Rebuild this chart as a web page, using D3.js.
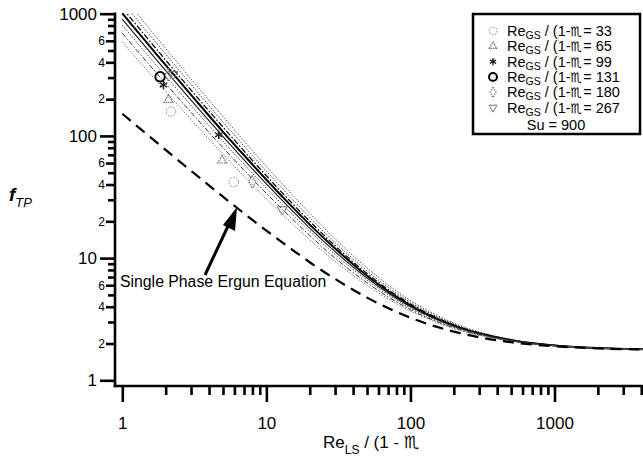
<!DOCTYPE html>
<html>
<head>
<meta charset="utf-8">
<script src="https://cdn.jsdelivr.net/npm/d3@7"></script>
<style>
  body { margin: 0; background: #fff; }
  svg { display: block; font-family: "Liberation Sans", Arial, sans-serif; }
  .eps { font-family: "DejaVu Sans", sans-serif; font-variant-emoji: text; }
</style>
</head>
<body>
<script>
'use strict';

// Re_LS / (1 - eps) sample points
const reX = [1, 1.2, 1.5, 2, 3, 5, 7, 10, 15, 20, 30, 50, 100, 200, 500, 1000, 4300];

// single phase Ergun (dashed)
const ergun = [151.8, 126.8, 101.8, 76.8, 51.8, 31.8, 23.2, 16.8, 11.8, 9.25, 6.75, 4.75, 3.25, 2.5, 2.05, 1.9, 1.785];

// model curves, top to bottom
const curveA = [1406, 1081, 784, 520, 293, 144, 90.9, 56.4, 33.3, 23.3, 14.4, 8.30, 4.50, 2.94, 2.16, 1.94, 1.79];
const curveB = [1252, 964, 701, 466, 264, 130, 82.6, 51.5, 30.7, 21.5, 13.4, 7.86, 4.35, 2.89, 2.15, 1.94, 1.79];
const curveC = [1115, 859, 626, 417, 237, 118, 75.2, 47.2, 28.3, 20.0, 12.6, 7.47, 4.21, 2.84, 2.14, 1.93, 1.79];
const curveD = [1008, 778, 568, 379, 217, 108, 69.4, 43.8, 26.5, 18.8, 12.0, 7.17, 4.11, 2.80, 2.13, 1.93, 1.79];
const curveE = [902, 697, 510, 342, 196, 98.8, 63.7, 40.5, 24.7, 17.6, 11.3, 6.87, 4.00, 2.77, 2.12, 1.92, 1.79];
const curveF = [806, 624, 458, 308, 178, 90.2, 58.5, 37.4, 23.0, 16.6, 10.7, 6.60, 3.90, 2.73, 2.11, 1.92, 1.79];
const curveG = [693, 538, 396, 268, 156, 80.1, 52.4, 33.9, 21.1, 15.3, 10.0, 6.28, 3.79, 2.69, 2.10, 1.92, 1.79];
const curveH = [588, 458, 339, 231, 136, 70.8, 46.7, 30.5, 19.3, 14.1, 9.40, 5.98, 3.69, 2.65, 2.09, 1.91, 1.79];

// measured points [Re_LS/(1-eps), f_TP]
const pts33 = [[2.18, 158], [5.94, 42]];
const pts65 = [[2.09, 197], [4.93, 63]];
const pts99 = [[1.93, 261], [4.67, 102]];
const pts131 = [[1.83, 305]];
const pts180 = [[2.09, 315], [7.98, 42]];
const pts267 = [[2.25, 320], [12.9, 25]];

const legendRe = [33, 65, 99, 131, 180, 267];
const legendSu = 900;

const xMajor = [1, 10, 100, 1000];
const xMinor = [2, 3, 4, 5, 6, 7, 8, 9, 20, 30, 40, 50, 60, 70, 80, 90,
  200, 300, 400, 500, 600, 700, 800, 900, 2000, 3000, 4000];
const yMajor = [1, 10, 100, 1000];
const yMinorLabeled = [2, 4, 6, 20, 40, 60, 200, 400, 600];
const yMinor = [3, 5, 7, 8, 9, 30, 50, 70, 80, 90, 300, 500, 700, 800, 900];

// the symbol-font epsilon shows up as a Scorpio sign in the original
const EPS = '\u264F\uFE0E';

let svg = d3.select('body').append('svg')
  .attr('width', 643)
  .attr('height', 461);

let xScale = d3.scaleLog().domain([1, 1000]).range([122.3, 554.5]);
let yScale = d3.scaleLog().domain([1, 1000]).range([380.3, 13.7]);

// clip the curves to the plot box
svg.append('clipPath').attr('id', 'plotClip')
  .append('rect').attr('x', 115).attr('y', 13).attr('width', 528).attr('height', 373);

let plot = svg.append('g').attr('clip-path', 'url(#plotClip)');

let line = d3.line()
  .x(d => xScale(d[0]))
  .y(d => yScale(d[1]))
  .curve(d3.curveMonotoneX);

function pairs(vals) {
  return reX.map((x, i) => [x, vals[i]]);
}

// draw curves: [data, stroke, width, dash]
let curves = [
  [curveA, '#555', 1, '1.5,1.5'],
  [curveB, '#444', 1, '1.5,1.5'],
  [curveC, '#111', 1.3, '6,2,1.5,2'],
  [curveD, '#000', 2, null],
  [curveE, '#222', 1.2, null],
  [curveF, '#444', 1, '1.5,1.5'],
  [curveG, '#333', 1, '5,2,1.5,2'],
  [curveH, '#777', 1, '1.5,1.5']
];
curves.forEach(c => {
  plot.append('path')
    .attr('d', line(pairs(c[0])))
    .attr('fill', 'none')
    .attr('stroke', c[1])
    .attr('stroke-width', c[2])
    .attr('stroke-dasharray', c[3]);
});

// Ergun dashed line
plot.append('path')
  .attr('d', line(pairs(ergun)))
  .attr('fill', 'none')
  .attr('stroke', '#000')
  .attr('stroke-width', 2.2)
  .attr('stroke-dasharray', '11,7');

// marker styles for each series
let markers = [
  { pts: pts33, type: d3.symbolCircle, size: 70, stroke: '#777', width: 1, dash: '1.5,1.5' },
  { pts: pts65, type: d3.symbolTriangle, size: 35, stroke: '#666', width: 1.2, dash: '1.5,1' },
  { pts: pts99, type: d3.symbolAsterisk, size: 50, stroke: '#222', width: 1.4, dash: null },
  { pts: pts131, type: d3.symbolCircle, size: 70, stroke: '#000', width: 2, dash: null },
  { pts: pts180, type: d3.symbolDiamond, size: 45, stroke: '#777', width: 1.2, dash: '1.5,1' },
  { pts: pts267, type: d3.symbolTriangle, size: 40, stroke: '#777', width: 1, dash: null, flip: true }
];

markers.forEach(m => {
  plot.selectAll(null)
    .data(m.pts)
    .enter()
    .append('path')
    .attr('d', d3.symbol().type(m.type).size(m.size))
    .attr('transform', d => 'translate(' + xScale(d[0]) + ',' + yScale(d[1]) + ')' + (m.flip ? 'rotate(180)' : ''))
    .attr('fill', 'none')
    .attr('stroke', m.stroke)
    .attr('stroke-width', m.width)
    .attr('stroke-dasharray', m.dash);
});

// axes
function styleAxis(g) {
  g.select('.domain').remove();
  g.selectAll('.tick line').attr('stroke', '#000').attr('stroke-width', 2.6);
  g.selectAll('.tick text').attr('fill', '#000');
}

let yAxisG = svg.append('g').attr('transform', 'translate(115,0)');
yAxisG.append('g')
  .call(d3.axisLeft(yScale).tickValues(yMinor).tickSize(7).tickFormat(''))
  .call(styleAxis);
yAxisG.append('g')
  .call(d3.axisLeft(yScale).tickValues(yMinorLabeled).tickSize(9).tickPadding(1)
    .tickFormat(d => String(d).charAt(0)))
  .call(styleAxis)
  .selectAll('text').style('font-size', '12px').style('font-family', '"Liberation Sans", Arial, sans-serif');
yAxisG.append('g')
  .call(d3.axisLeft(yScale).tickValues(yMajor).tickSize(15).tickPadding(3).tickFormat(d3.format('d')))
  .call(styleAxis)
  .selectAll('text').style('font-size', '17px').style('font-family', '"Liberation Sans", Arial, sans-serif');

let xAxisG = svg.append('g').attr('transform', 'translate(0,386)');
xAxisG.append('g')
  .call(d3.axisBottom(xScale).tickValues(xMinor).tickSize(9).tickFormat(''))
  .call(styleAxis);
xAxisG.append('g')
  .call(d3.axisBottom(xScale).tickValues(xMajor).tickSize(16).tickPadding(15).tickFormat(d3.format('d')))
  .call(styleAxis)
  .selectAll('text').style('font-size', '17px').style('font-family', '"Liberation Sans", Arial, sans-serif');

// axis lines
svg.append('line').attr('x1', 115).attr('x2', 115).attr('y1', 12.5).attr('y2', 387.3)
  .attr('stroke', '#000').attr('stroke-width', 2.6);
svg.append('line').attr('x1', 113.7).attr('x2', 643).attr('y1', 386).attr('y2', 386)
  .attr('stroke', '#000').attr('stroke-width', 2.6);

// axis titles
let yTitle = svg.append('text').attr('x', 9).attr('y', 201).style('font-size', '19px');
yTitle.append('tspan').style('font-style', 'italic').style('font-weight', 'bold').text('f');
yTitle.append('tspan').attr('dy', 6).style('font-style', 'italic').style('font-size', '13px').text('TP');

let xTitle = svg.append('text').attr('x', 323).attr('y', 448).style('font-size', '17px');
xTitle.append('tspan').text('Re');
xTitle.append('tspan').attr('dy', 6).style('font-size', '12px').text('LS');
xTitle.append('tspan').attr('dy', -6).text(' / (1 - ');
xTitle.append('tspan').attr('class', 'eps').text(EPS);

// annotation with arrow
svg.append('text').attr('x', 120).attr('y', 287).style('font-size', '15.8px')
  .text('Single Phase Ergun Equation');
svg.append('line').attr('x1', 205).attr('y1', 275).attr('x2', 229).attr('y2', 224)
  .attr('stroke', '#000').attr('stroke-width', 3);
svg.append('path').attr('d', 'M237,207 L223,225 L235,231 Z').attr('fill', '#000');

// legend
let legend = svg.append('g');
legend.append('rect')
  .attr('x', 473).attr('y', 14).attr('width', 167).attr('height', 120)
  .attr('fill', '#fff').attr('stroke', '#000').attr('stroke-width', 2.5);

legendRe.forEach((re, i) => {
  let cy = 31 + i * 15.3;
  let m = markers[i];
  legend.append('path')
    .attr('d', d3.symbol().type(m.type).size(m.size * 0.7))
    .attr('transform', 'translate(493,' + cy + ')' + (m.flip ? 'rotate(180)' : ''))
    .attr('fill', 'none')
    .attr('stroke', m.stroke)
    .attr('stroke-width', m.width)
    .attr('stroke-dasharray', m.dash);
  let t = legend.append('text').attr('x', 507).attr('y', cy + 5).style('font-size', '14.5px');
  t.append('tspan').text('Re');
  t.append('tspan').attr('dy', 3).style('font-size', '10.5px').text('GS');
  t.append('tspan').attr('dy', -3).text(' / (1-');
  t.append('tspan').attr('class', 'eps').style('font-size', '13px').text(EPS);
  t.append('tspan').attr('dx', 1).text('= ' + re);
});
legend.append('text')
  .attr('x', 556).attr('y', 130)
  .attr('text-anchor', 'middle')
  .style('font-size', '14.5px')
  .text('Su = ' + legendSu);
</script>
</body>
</html>
